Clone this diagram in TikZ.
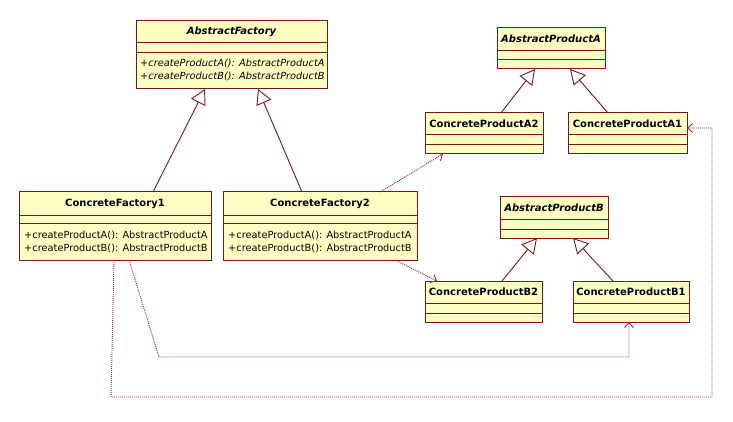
\documentclass[tikz,border=0pt]{standalone}
\usepackage{fontspec}
\setmainfont{DejaVu Sans}
\usetikzlibrary{arrows.meta,calc}
\definecolor{umlfill}{RGB}{255,255,196}
\definecolor{umlline}{RGB}{128,20,20}
\definecolor{depline}{RGB}{150,45,45}
\tikzset{
  classbox/.style={draw=umlline, fill=umlfill, line width=1pt, inner sep=0pt, outer sep=0pt},
  sepline/.style={draw=umlline, line width=0.9pt},
  titletext/.style={font=\fontsize{10}{12}\selectfont\bfseries, inner sep=0pt},
  abstitle/.style={font=\fontsize{10}{12}\selectfont\bfseries\itshape, inner sep=0pt},
  opstext/.style={font=\fontsize{9.8}{13}\selectfont, inner sep=0pt, align=left, anchor=west},
  absops/.style={font=\fontsize{9.8}{13}\selectfont\itshape, inner sep=0pt, align=left, anchor=west},
  gen/.style={draw=umlline, line width=0.9pt, -{Triangle[open, length=15pt, width=16pt, fill=white]}},
  dep/.style={draw=depline, line width=0.9pt, dash pattern=on 1pt off 1pt, -{Straight Barb[length=5pt, width=9pt, line width=0.9pt]}},
}
% name, x1, y1, x2, y2, sep1, sep2, title-style, title
\newcommand{\umlbox}[9]{%
  \node[classbox, anchor=north west, minimum width={(#4-#2)*1pt}, minimum height={(#5-#3)*1pt}] (#1) at (#2,#3) {};
  \draw[sepline] (#2,#6) -- (#4,#6);
  \draw[sepline] (#2,#7) -- (#4,#7);
  \node[#8] (#1title) at ({(#2+#4)/2},{(#3+#6)/2}) {#9};
}
\begin{document}
\begin{tikzpicture}[x=1pt, y=-1pt]
\useasboundingbox (0,0) rectangle (733,422);

\umlbox{af}{136}{21}{327}{89}{42}{52}{abstitle}{AbstractFactory}
\node[absops] (afops) at (140,70) {+createProductA(): AbstractProductA\\+createProductB(): AbstractProductB};

\umlbox{cf1}{19}{192}{211}{260}{215}{223}{titletext}{ConcreteFactory1}
\node[opstext] (cf1ops) at (24,241.5) {+createProductA(): AbstractProductA\\+createProductB(): AbstractProductB};

\umlbox{cf2}{223}{192}{417}{260}{215}{223}{titletext}{ConcreteFactory2}
\node[opstext] (cf2ops) at (228,241.5) {+createProductA(): AbstractProductA\\+createProductB(): AbstractProductB};

\umlbox{apa}{497}{28}{605}{69}{50}{59}{abstitle}{AbstractProductA}
\umlbox{cpa2}{425}{113}{543}{154}{134}{144}{titletext}{ConcreteProductA2}
\umlbox{cpa1}{568}{113}{687}{154}{134}{144}{titletext}{ConcreteProductA1}

\umlbox{apb}{500}{197}{608}{238}{219}{229}{abstitle}{AbstractProductB}
\umlbox{cpb2}{425}{281}{542}{322}{303}{313}{titletext}{ConcreteProductB2}
\umlbox{cpb1}{573}{281}{689}{322}{303}{313}{titletext}{ConcreteProductB1}

% generalizations
\draw[gen] ($(cf1.north west)+(134,0)$) -- ($(af.south west)+(69,0)$);
\draw[gen] ($(cf2.north west)+(79,0)$) -- ($(af.south west)+(122,0)$);
\draw[gen] ($(cpa2.north west)+(76,0)$) -- ($(apa.south west)+(38,0)$);
\draw[gen] ($(cpa1.north west)+(40,0)$) -- ($(apa.south west)+(73,0)$);
\draw[gen] ($(cpb2.north west)+(77,0)$) -- ($(apb.south west)+(37,0)$);
\draw[gen] ($(cpb1.north west)+(40,0)$) -- ($(apb.south west)+(73,0)$);

% dependencies
\draw[dep] ($(cf2.north west)+(157,0)$) -- ($(cpa2.south west)+(18,0)$);
\draw[dep] ($(cf2.south west)+(172,0)$) -- ($(cpb2.north west)+(12,0)$);
\coordinate (b1) at (159,357);
\coordinate (b2) at (629,357);
\draw[dep] ($(cf1.south west)+(110,0)$) -- (b1) -- (b2) -- ($(cpb1.south west)+(56,0)$);
\coordinate (c1) at (111,397);
\coordinate (c2) at (712,397);
\coordinate (c3) at (712,128);
\draw[dep] ($(cf1.south west)+(95,0)$) -- (c1) -- (c2) -- (c3) -- ($(cpa1.north east)+(0,15)$);
\end{tikzpicture}
\end{document}
